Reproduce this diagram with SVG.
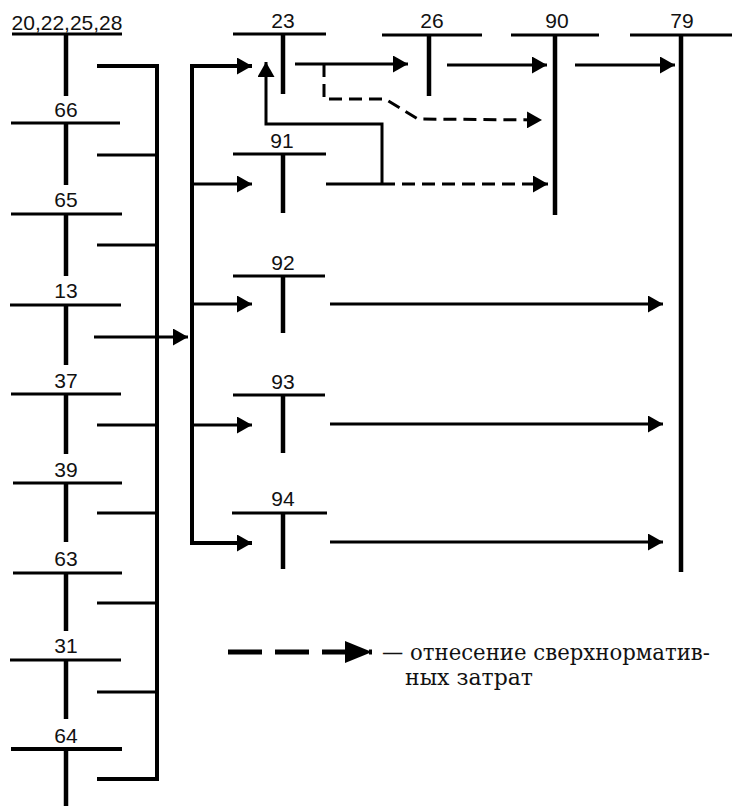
<svg xmlns="http://www.w3.org/2000/svg" width="732" height="806" viewBox="0 0 732 806">
<style>
.bg{fill:#fff}
.lbl{font-family:"Liberation Sans",Arial,sans-serif;font-size:21px;fill:#111;text-anchor:middle}
.leg{font-family:"DejaVu Serif","Liberation Serif",serif;font-size:22px;fill:#111}
.h{stroke:#000;stroke-width:3;fill:none}
.v{stroke:#000;stroke-width:4.5;fill:none}
.c{stroke:#000;stroke-width:3;fill:none}
.bus{stroke:#000;stroke-width:4;fill:none}
.d{stroke:#000;stroke-width:3;fill:none;stroke-dasharray:13 7}
</style>
<defs>
<marker id="ah" markerUnits="userSpaceOnUse" markerWidth="16" markerHeight="17" refX="15" refY="8.5" orient="auto">
<path d="M0,0 L15,8.5 L0,17 z" fill="#000"/>
</marker>
<marker id="ahL" markerUnits="userSpaceOnUse" markerWidth="28" markerHeight="22" refX="27" refY="11" orient="auto">
<path d="M0,0 L27,11 L0,22 z" fill="#000"/>
</marker>
</defs>
<rect class="bg" x="0" y="0" width="732" height="806"/>

<!-- left column accounts -->
<g id="acc-20-22-25-28"><text class="lbl" x="67" y="30">20,22,25,28</text><line class="h" x1="12" y1="34" x2="122" y2="34"/><line class="v" x1="66" y1="34" x2="66" y2="96"/></g>
<g id="acc-66"><text class="lbl" x="66" y="117">66</text><line class="h" x1="11" y1="123" x2="120" y2="123"/><line class="v" x1="66" y1="123" x2="66" y2="185"/></g>
<g id="acc-65"><text class="lbl" x="66" y="207">65</text><line class="h" x1="11" y1="214" x2="122" y2="214"/><line class="v" x1="66" y1="214" x2="66" y2="276"/></g>
<g id="acc-13"><text class="lbl" x="66" y="298">13</text><line class="h" x1="10" y1="305" x2="121" y2="305"/><line class="v" x1="66" y1="305" x2="66" y2="365"/></g>
<g id="acc-37"><text class="lbl" x="66" y="388">37</text><line class="h" x1="11" y1="394" x2="121" y2="394"/><line class="v" x1="66" y1="394" x2="66" y2="454"/></g>
<g id="acc-39"><text class="lbl" x="66" y="477">39</text><line class="h" x1="13" y1="483" x2="122" y2="483"/><line class="v" x1="66" y1="483" x2="66" y2="542"/></g>
<g id="acc-63"><text class="lbl" x="66" y="566">63</text><line class="h" x1="13" y1="573" x2="122" y2="573"/><line class="v" x1="66" y1="573" x2="66" y2="631"/></g>
<g id="acc-31"><text class="lbl" x="66" y="653">31</text><line class="h" x1="10" y1="660" x2="121" y2="660"/><line class="v" x1="66" y1="660" x2="66" y2="719"/></g>
<g id="acc-64"><text class="lbl" x="66" y="743">64</text><line class="h" x1="11" y1="749" x2="122" y2="749" style="stroke-width:4"/><line class="v" x1="66" y1="749" x2="66" y2="806"/></g>

<!-- middle accounts -->
<g id="acc-23"><text class="lbl" x="283" y="28">23</text><line class="h" x1="233" y1="34" x2="326" y2="34"/><line class="v" x1="283" y1="34" x2="283" y2="94"/></g>
<g id="acc-91"><text class="lbl" x="282" y="148">91</text><line class="h" x1="233" y1="154" x2="326" y2="154"/><line class="v" x1="283" y1="154" x2="283" y2="213"/></g>
<g id="acc-92"><text class="lbl" x="283" y="270">92</text><line class="h" x1="233" y1="276" x2="325" y2="276"/><line class="v" x1="283" y1="276" x2="283" y2="333"/></g>
<g id="acc-93"><text class="lbl" x="283" y="389">93</text><line class="h" x1="233" y1="395" x2="325" y2="395"/><line class="v" x1="283" y1="395" x2="283" y2="453"/></g>
<g id="acc-94"><text class="lbl" x="283" y="506">94</text><line class="h" x1="232" y1="513" x2="327" y2="513"/><line class="v" x1="283" y1="513" x2="283" y2="569"/></g>

<!-- top right accounts -->
<g id="acc-26"><text class="lbl" x="432" y="28">26</text><line class="h" x1="382" y1="35" x2="482" y2="35"/><line class="v" x1="429" y1="35" x2="429" y2="96"/></g>
<g id="acc-90"><text class="lbl" x="557" y="28">90</text><line class="h" x1="511" y1="35" x2="599" y2="35"/><line class="v" x1="555" y1="35" x2="555" y2="215"/></g>
<g id="acc-79"><text class="lbl" x="682" y="28">79</text><line class="h" x1="630" y1="35" x2="732" y2="35"/><line class="v" x1="681" y1="35" x2="681" y2="572"/></g>

<g id="connectors">
<!-- left bus -->
<polyline class="bus" points="97,66 157,66 157,779 97,779"/>
<line class="c" x1="97" y1="155" x2="157" y2="155"/>
<line class="c" x1="97" y1="245" x2="157" y2="245"/>
<line class="c" x1="94" y1="337" x2="188" y2="337" marker-end="url(#ah)"/>
<line class="c" x1="97" y1="425" x2="157" y2="425"/>
<line class="c" x1="97" y1="513" x2="157" y2="513"/>
<line class="c" x1="97" y1="603" x2="157" y2="603"/>
<line class="c" x1="97" y1="692" x2="157" y2="692"/>

<!-- second bus -->
<polyline class="bus" points="252,66 192,66 192,543 252,543" marker-end="url(#ah)"/>
<line class="c" x1="192" y1="66" x2="252" y2="66" marker-end="url(#ah)"/>
<line class="c" x1="192" y1="184" x2="252" y2="184" marker-end="url(#ah)"/>
<line class="c" x1="192" y1="304" x2="252" y2="304" marker-end="url(#ah)"/>
<line class="c" x1="192" y1="425" x2="252" y2="425" marker-end="url(#ah)"/>

<!-- flows -->
<line class="c" x1="295" y1="64" x2="408" y2="64" marker-end="url(#ah)"/>
<line class="c" x1="447" y1="65" x2="547" y2="65" marker-end="url(#ah)"/>
<line class="c" x1="575" y1="65" x2="675" y2="65" marker-end="url(#ah)"/>
<line class="c" x1="330" y1="304" x2="663" y2="304" marker-end="url(#ah)"/>
<line class="c" x1="330" y1="424" x2="663" y2="424" marker-end="url(#ah)"/>
<line class="c" x1="330" y1="542" x2="663" y2="542" marker-end="url(#ah)"/>

<!-- 91 outputs -->
<line class="c" x1="326" y1="184" x2="382" y2="184"/>
<polyline class="c" points="382,184 382,124 266,124 266,62" marker-end="url(#ah)"/>
<line class="d" x1="382" y1="184" x2="548" y2="184" marker-end="url(#ah)"/>

<!-- dashed from 23 -->
<polyline class="d" points="324,64 324,99 385,99 418,119 542,120" marker-end="url(#ah)"/>
</g>

<g id="legend">
<line x1="228" y1="652" x2="372" y2="652" style="stroke:#000;stroke-width:5;stroke-dasharray:34 13" marker-end="url(#ahL)"/>
<text class="leg" x="382" y="660" textLength="328" lengthAdjust="spacingAndGlyphs">— отнесение сверхнорматив-</text>
<text class="leg" x="405" y="685" textLength="128" lengthAdjust="spacingAndGlyphs">ных затрат</text>
</g>
</svg>
